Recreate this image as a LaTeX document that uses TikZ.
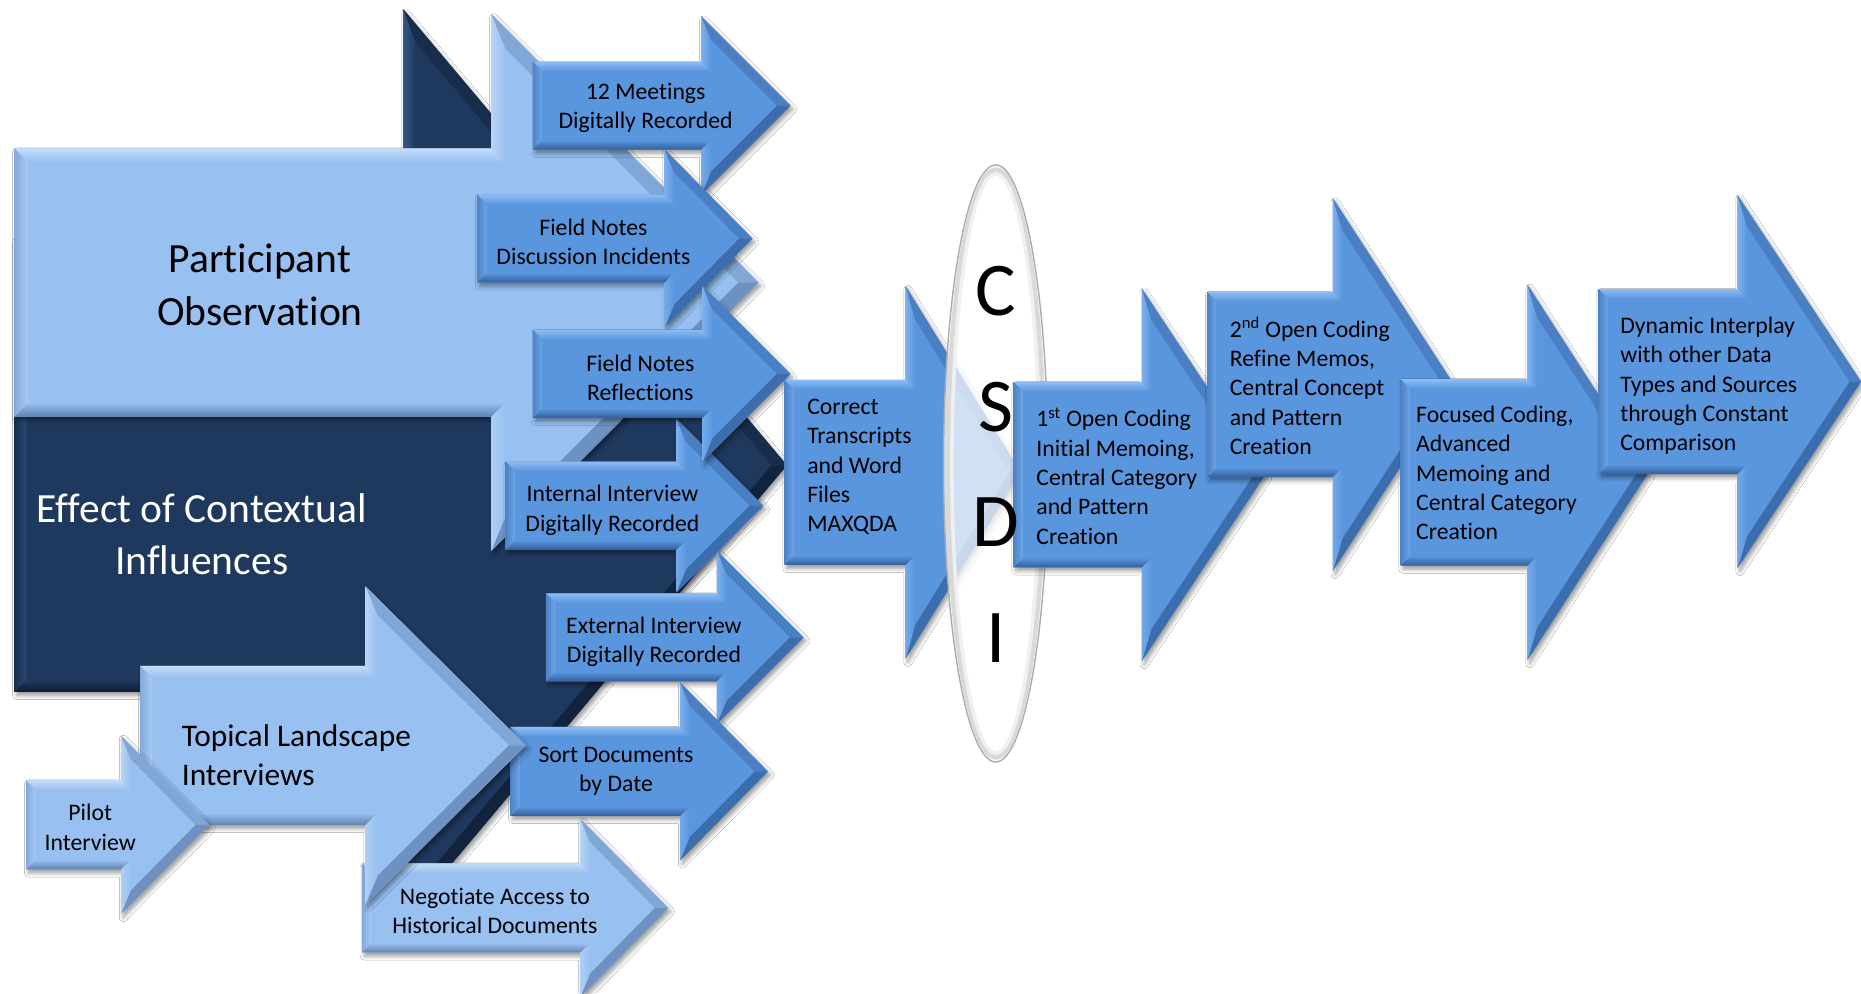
\documentclass[tikz,border=0pt]{standalone}
\usepackage{fontspec}
\setmainfont{Carlito}[Ligatures={NoCommon,NoContextual,NoRare},RawFeature={-liga;-clig;-dlig;-calt}]
\usetikzlibrary{shapes.geometric,shadows.blur}

% colour families: main, light (lit bevel) and dark (shaded bevel)
\definecolor{mid}{RGB}{90,150,222}
\definecolor{midlight}{RGB}{140,188,244}
\definecolor{middark}{RGB}{50,95,155}
\definecolor{pale}{RGB}{152,192,240}
\definecolor{palelight}{RGB}{195,220,250}
\definecolor{paledark}{RGB}{95,130,178}
\definecolor{navy}{RGB}{31,57,94}
\definecolor{navylight}{RGB}{62,98,145}
\definecolor{navydark}{RGB}{14,28,50}

\tikzset{
  arrowshadow/.style={blur shadow={shadow xshift=2pt,shadow yshift=-3pt,shadow blur radius=3.5pt,shadow opacity=40}},
  lab/.style={font=\fontsize{20}{24.7}\selectfont, align=center, inner sep=0pt},
  flowlab/.style={font=\fontsize{20}{24.7}\selectfont, align=left, anchor=west, inner sep=0pt},
  biglab/.style={font=\fontsize{35}{44}\selectfont, align=center, inner sep=0pt},
  midlab/.style={font=\fontsize{26.5}{33}\selectfont, align=left, anchor=west, inner sep=0pt},
  csdiletter/.style={font=\fontsize{64}{64}\selectfont, inner sep=0pt},
}

% bevelled block arrow
% #1 body left, #2 head base, #3 tip, #4 centre line,
% #5 half body height, #6 half head height, #7 colour family, #8 bevel width
\newcommand{\bevarrow}[8]{%
  \pgfmathsetmacro\baL{#3-#2}%
  \pgfmathsetmacro\baS{10*sqrt((#6/10)*(#6/10)+(\baL/10)*(\baL/10))}%
  \pgfmathsetmacro\baT{#4-#5}%
  \pgfmathsetmacro\baB{#4+#5}%
  \pgfmathsetmacro\baHT{#4-#6}%
  \pgfmathsetmacro\baHB{#4+#6}%
  \pgfmathsetmacro\baiT{\baT+#8}%
  \pgfmathsetmacro\baiB{\baB-#8}%
  \pgfmathsetmacro\baiL{#1+#8}%
  \pgfmathsetmacro\baiH{#2+#8}%
  \pgfmathsetmacro\baOff{#8*(\baS+#6)/\baL}%
  \pgfmathsetmacro\baiHT{\baHT+\baOff}%
  \pgfmathsetmacro\baiHB{\baHB-\baOff}%
  \pgfmathsetmacro\baiTip{#3-#8*\baS/#6}%
  \path[fill=#7, arrowshadow] (#1,\baT) -- (#2,\baT) -- (#2,\baHT) -- (#3,#4)
        -- (#2,\baHB) -- (#2,\baB) -- (#1,\baB) -- cycle;
  \shade[top color=#7light, bottom color=#7]
        (#1,\baT) -- (#2,\baT) -- (\baiH,\baiT) -- (\baiL,\baiT) -- cycle;
  \shade[left color=#7light!70!#7, right color=#7]
        (#2,\baT) -- (#2,\baHT) -- (\baiH,\baiHT) -- (\baiH,\baiT) -- cycle;
  \fill[#7dark!40!#7]
        (#2,\baHT) -- (#3,#4) -- (\baiTip,#4) -- (\baiH,\baiHT) -- cycle;
  \fill[#7dark!75!#7]
        (#3,#4) -- (#2,\baHB) -- (\baiH,\baiHB) -- (\baiTip,#4) -- cycle;
  \shade[left color=#7light!50!#7, right color=#7]
        (#2,\baHB) -- (#2,\baB) -- (\baiH,\baiB) -- (\baiH,\baiHB) -- cycle;
  \shade[top color=#7, bottom color=#7dark]
        (#2,\baB) -- (#1,\baB) -- (\baiL,\baiB) -- (\baiH,\baiB) -- cycle;
  \shade[left color=#7dark!35!#7, right color=#7light!40!#7]
        (#1,\baB) -- (#1,\baT) -- (\baiL,\baiT) -- (\baiL,\baiB) -- cycle;
}

\begin{document}
\begin{tikzpicture}[x=1pt,y=-1pt]
\useasboundingbox (0,0) rectangle (1568,837);
\fill[white] (0,0) rectangle (1568,837);

% contextual influences (behind)
\bevarrow{12}{340}{663}{392}{191}{384}{navy}{10}
% participant observation
\bevarrow{12}{414}{639}{238}{113}{226}{pale}{12}

% data sources
\bevarrow{449}{591}{666}{89}{37}{75}{mid}{8}
\bevarrow{402}{560}{634}{201}{37}{75}{mid}{8}
\bevarrow{426}{570}{643}{426}{37}{73}{mid}{8}
\bevarrow{449}{592}{666}{315}{37}{74}{mid}{8}
\bevarrow{460}{604}{677}{537}{37}{73}{mid}{8}
\bevarrow{430}{573}{647}{650}{37.5}{75}{mid}{8}

% interviews and documents
\bevarrow{305}{489}{563}{765}{37.5}{75}{pale}{8}
\bevarrow{118}{308}{443}{628}{67}{134}{pale}{10}
\bevarrow{22}{102}{176}{695}{37.5}{75}{pale}{8}

% analysis flow
\bevarrow{661}{763}{860}{398}{78}{157}{mid}{8}

\node[ellipse, draw=gray!65, line width=1.2pt, fill=white, fill opacity=0.72,
      minimum width=88pt, minimum height=503pt, inner sep=0pt] (csdi) at (839,390.5) {};
\draw[gray!30, line width=4pt] (csdi.center) ellipse [x radius=40.5, y radius=247.5];
\draw[gray!12, line width=3pt] (csdi.center) ellipse [x radius=37, y radius=244];

\bevarrow{854}{962}{1066}{400}{78}{157}{mid}{8}
\bevarrow{1017}{1123}{1225}{324}{78}{157}{mid}{8}
\bevarrow{1180}{1287}{1389}{398}{78.5}{158}{mid}{8}
\bevarrow{1347}{1464}{1568}{321.5}{78}{157}{mid}{8}

% labels
\node[biglab] (partobs) at (219,240) {Participant\\Observation};
\node[biglab, text=white] (context) at (170,450) {Effect of Contextual\\Influences};
\node[midlab] (topical) at (153,636.5) {Topical Landscape\\Interviews};
\node[lab] (pilot) at (76,697) {Pilot\\Interview};
\node[lab] (negotiate) at (417,767.5) {Negotiate Access to\\Historical Documents};

\node[lab] (meetings) at (544,91) {12 Meetings\\Digitally Recorded};
\node[lab] (discussion) at (500,204) {Field Notes\\Discussion Incidents};
\node[lab] (reflections) at (539.5,318.5) {Field Notes\\Reflections};
\node[lab] (internal) at (516,430) {Internal Interview\\Digitally Recorded};
\node[lab] (external) at (551,540.5) {External Interview\\Digitally Recorded};
\node[lab] (sortdocs) at (519,650) {Sort Documents\\by Date};

\node[flowlab] (transcripts) at (680,393.5) {Correct\\Transcripts\\and Word\\Files\\MAXQDA};
\node[flowlab] (firstcoding) at (873,401) {1\textsuperscript{st} Open Coding\\Initial Memoing,\\Central Category\\and Pattern\\Creation};
\node[flowlab] (secondcoding) at (1036,325) {2\textsuperscript{nd} Open Coding\\Refine Memos,\\Central Concept\\and Pattern\\Creation};
\node[flowlab] (focused) at (1193,398.5) {Focused Coding,\\Advanced\\Memoing and\\Central Category\\Creation};
\node[flowlab] (interplay) at (1365,325) {Dynamic Interplay\\with other Data\\Types and Sources\\through Constant\\Comparison};

\node[csdiletter] (letterC) at (839,245) {C};
\node[csdiletter] (letterS) at (839,343) {S};
\node[csdiletter] (letterD) at (839,440) {D};
\node[csdiletter] (letterI) at (839,538) {I};
\end{tikzpicture}
\end{document}
